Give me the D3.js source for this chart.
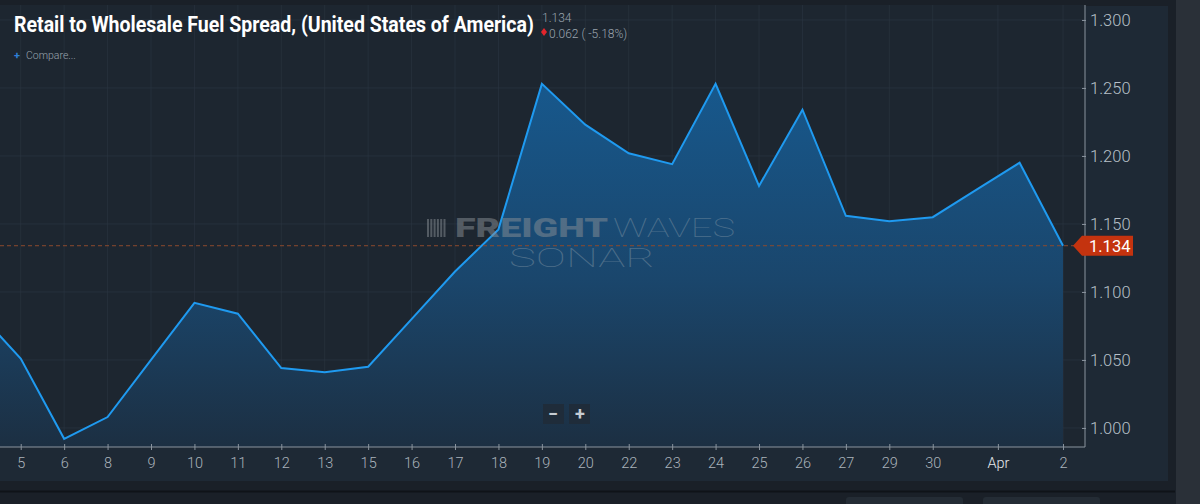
<!DOCTYPE html>
<html><head><meta charset="utf-8">
<script src="https://cdn.jsdelivr.net/npm/d3@7/dist/d3.min.js"></script>
<style>
html,body{margin:0;padding:0;background:#1a2028;overflow:hidden;}
svg{display:block;font-family:Roboto,"Noto Sans",sans-serif;}
</style></head>
<body>
<svg id="chart" width="1200" height="504"></svg>
<script>
// ---- data ----
const dates = ["Mar 4","Mar 5","Mar 6","Mar 8","Mar 9","Mar 10","Mar 11","Mar 12","Mar 13","Mar 15","Mar 16","Mar 17","Mar 18","Mar 19","Mar 20","Mar 22","Mar 23","Mar 24","Mar 25","Mar 26","Mar 27","Mar 29","Mar 30","Mar 31","Apr 1","Apr 2"];
const values = [1.086,1.051,0.992,1.008,1.050,1.092,1.084,1.044,1.041,1.045,1.080,1.115,1.146,1.253,1.223,1.202,1.194,1.253,1.178,1.234,1.156,1.152,1.155,1.175,1.195,1.134];
const tickLabels = ["5","6","8","9","10","11","12","13","15","16","17","18","19","20","22","23","24","25","26","27","29","30","Apr","2"];
const tickIndex = [0,1,2,3,4,5,6,7,8,9,10,11,12,13,14,15,16,17,18,19,20,21,22.5,24];
const yTicks = [1.000,1.050,1.100,1.150,1.200,1.250,1.300];
const title = "Retail to Wholesale Fuel Spread, (United States of America)";
const lastValue = 1.134, change = "0.062 ( -5.18%)";

const data = dates.map((d,i)=>({date:d, idx:i-1, v:values[i]}));

const svg = d3.select("#chart");
const W=1200,H=504;
const plotL=0, plotR=1085, plotT=5, plotB=447;

// backgrounds
svg.append("rect").attr("x",0).attr("y",0).attr("width",W).attr("height",H).attr("fill","#1a2028");
svg.append("rect").attr("x",1176).attr("y",0).attr("width",24).attr("height",H).attr("fill","#2a3038");
svg.append("rect").attr("x",0).attr("y",6).attr("width",1168).attr("height",475).attr("fill","#1e2935");
svg.append("rect").attr("x",plotL).attr("y",plotT).attr("width",plotR-plotL).attr("height",plotB-plotT).attr("fill","#1d2630");
svg.append("line").attr("x1",0).attr("x2",1175).attr("y1",491.5).attr("y2",491.5).attr("stroke","#0f1318").attr("stroke-width",2);
svg.append("rect").attr("x",846).attr("y",497).attr("width",117).attr("height",10).attr("rx",3).attr("fill","#242c35");
svg.append("rect").attr("x",983).attr("y",497).attr("width",117).attr("height",10).attr("rx",3).attr("fill","#242c35");

const x = d3.scaleLinear().domain([-0.477,24.506]).range([plotL,plotR]);
const y = d3.scaleLinear().domain([0.986,1.311]).range([plotB,plotT]);

const defs = svg.append("defs");
defs.append("clipPath").attr("id","clip").append("rect")
  .attr("x",plotL).attr("y",plotT).attr("width",plotR-plotL).attr("height",plotB-plotT);
const grad = defs.append("linearGradient").attr("id","areaGrad")
  .attr("gradientUnits","userSpaceOnUse").attr("x1",0).attr("x2",0).attr("y1",y(1.26)).attr("y2",plotB);
grad.append("stop").attr("offset","0%").attr("stop-color","#17598e");
grad.append("stop").attr("offset","55%").attr("stop-color","#1a466c");
grad.append("stop").attr("offset","100%").attr("stop-color","#1c2f42");

// grid
const g = svg.append("g");
g.selectAll(".vg").data(tickIndex).join("line")
  .attr("x1",d=>x(d)).attr("x2",d=>x(d)).attr("y1",plotT).attr("y2",plotB)
  .attr("stroke","#2b3642").attr("stroke-width",1).attr("opacity",0.6);
g.selectAll(".hg").data(yTicks).join("line")
  .attr("x1",plotL).attr("x2",plotR).attr("y1",d=>y(d)).attr("y2",d=>y(d))
  .attr("stroke","#2b3642").attr("stroke-width",1).attr("opacity",0.7);

// area + line
const plot = svg.append("g").attr("clip-path","url(#clip)");
plot.append("path").datum(data)
  .attr("d", d3.area().x(d=>x(d.idx)).y0(plotB).y1(d=>y(d.v)))
  .attr("fill","url(#areaGrad)");

// watermark
const wm = svg.append("g").attr("opacity",0.5);
const logo = wm.append("g");
d3.range(6).forEach(i=>{
  logo.append("rect").attr("x",427+i*3.3).attr("y",219).attr("width",2).attr("height",18).attr("fill","#8a9096");
});
wm.append("text").attr("x",455).attr("y",237).attr("font-size",25).attr("font-weight",900)
  .attr("fill","#8a9096").attr("textLength",153).attr("lengthAdjust","spacingAndGlyphs").text("FREIGHT");
wm.append("text").attr("x",613).attr("y",237).attr("font-size",25).attr("font-weight",100)
  .attr("fill","#7f93a3")
  .attr("textLength",122).attr("lengthAdjust","spacingAndGlyphs").text("WAVES");
wm.append("text").attr("x",509).attr("y",267).attr("font-size",26).attr("font-weight",100)
  .attr("fill","#7f93a3")
  .attr("textLength",146).attr("lengthAdjust","spacingAndGlyphs").text("SONAR");

// last value dashed line
svg.append("line").attr("x1",plotL).attr("x2",plotR).attr("y1",y(lastValue)).attr("y2",y(lastValue))
  .attr("stroke","#8c4a2e").attr("stroke-width",1).attr("stroke-dasharray","4,3");

plot.append("path").datum(data)
  .attr("d", d3.line().x(d=>x(d.idx)).y(d=>y(d.v)))
  .attr("fill","none").attr("stroke","#1f9af0").attr("stroke-width",2).attr("stroke-linejoin","miter");

// y axis (right)
const yAxis = d3.axisRight(y).tickValues(yTicks).tickFormat(d3.format(".3f")).tickSize(4).tickPadding(2);
const ya = svg.append("g").attr("transform",`translate(${plotR},0)`).call(yAxis);
ya.select(".domain").attr("stroke","#8a949e").attr("d",`M0,${plotT}V${plotB}`);
ya.selectAll(".tick line").attr("stroke","#8a949e").attr("x1",-3).attr("x2",1);
ya.selectAll(".tick text").attr("fill","#b7c0c8").attr("font-size",16.5).attr("font-weight",300)
  .attr("font-family","Roboto, sans-serif").attr("x",5);

// x axis
const xAxis = d3.axisBottom(x).tickValues(tickIndex).tickFormat((d,i)=>tickLabels[i]).tickSize(5).tickPadding(6);
const xa = svg.append("g").attr("transform",`translate(0,${plotB})`).call(xAxis);
xa.select(".domain").attr("stroke","#8a949e").attr("d",`M${plotL},0H${plotR}`);
xa.selectAll(".tick line").attr("stroke","#8a949e").attr("y1",-3).attr("y2",3);
xa.selectAll(".tick text").attr("fill",(d,i)=>tickLabels[i]==="Apr"?"#e4e8ec":"#aab3bb")
  .attr("font-size",14.5).attr("font-weight",300).attr("font-family","Roboto, sans-serif");

// last value label
const ly = y(lastValue);
svg.append("path")
  .attr("d",`M${plotR-12},${ly} L${plotR-3},${ly-10} H${plotR+48} V${ly+10} H${plotR-3} Z`)
  .attr("fill","#c4330f");
svg.append("text").attr("x",plotR+4).attr("y",ly+6).attr("font-size",16.5).attr("font-weight",400)
  .attr("fill","#ffffff").text(d3.format(".3f")(lastValue));

// zoom control
const zc = svg.append("g");
zc.append("rect").attr("x",543).attr("y",404).attr("width",21).attr("height",20).attr("fill","#1f2c3a");
zc.append("rect").attr("x",569).attr("y",404).attr("width",21).attr("height",20).attr("fill","#1f2c3a");
zc.append("text").attr("x",553).attr("y",420).attr("text-anchor","middle").attr("font-size",18).attr("font-weight",700).attr("fill","#c7cdd3").text("−");
zc.append("text").attr("x",580).attr("y",420).attr("text-anchor","middle").attr("font-size",18).attr("font-weight",700).attr("fill","#c7cdd3").text("+");

// title and header (title condensed horizontally to fit its width)
const tg = svg.append("g");
const tt = tg.append("text").attr("x",0).attr("y",0).attr("font-size",21.5).attr("font-weight",700)
  .attr("fill","#ffffff").text(title);
const natural = tt.node().getComputedTextLength();
tg.attr("transform",`translate(14,32) scale(${520/natural},1)`);

svg.append("text").attr("x",542).attr("y",22).attr("font-size",12).attr("font-weight",300)
  .attr("fill","#9aa4ae").text(d3.format(".3f")(lastValue));
svg.append("path").attr("d","M544,28 L547,32 L544,36 L541,32 Z").attr("fill","#e3252c");
svg.append("text").attr("x",549).attr("y",37.5).attr("font-size",12).attr("font-weight",300)
  .attr("fill","#9aa4ae").text(change);
svg.append("text").attr("x",14).attr("y",59).attr("font-size",11).attr("font-weight",700)
  .attr("fill","#2f7fd6").text("+");
svg.append("text").attr("x",26).attr("y",59).attr("font-size",10.5).attr("font-weight",300)
  .attr("fill","#9aa4ae").text("Compare...");
</script>
</body></html>
